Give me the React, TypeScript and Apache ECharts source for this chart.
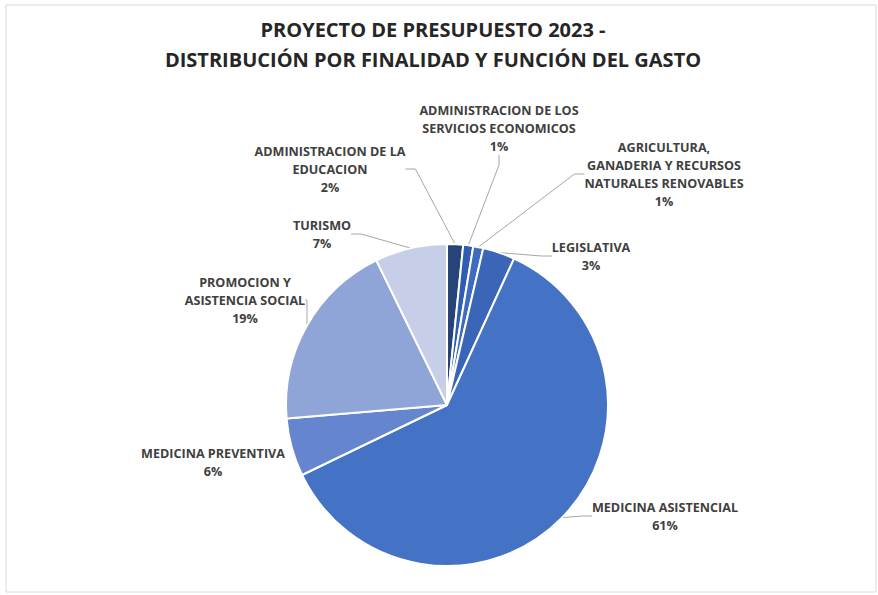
import React, { useEffect, useRef } from "react";
import * as echarts from "echarts";

const titleLines = [
  "PROYECTO DE PRESUPUESTO 2023 -",
  "DISTRIBUCIÓN POR FINALIDAD Y FUNCIÓN DEL GASTO",
];

const categories = [
  "ADMINISTRACION DE LA\nEDUCACION",
  "ADMINISTRACION DE LOS\nSERVICIOS ECONOMICOS",
  "AGRICULTURA,\nGANADERIA Y RECURSOS\nNATURALES RENOVABLES",
  "LEGISLATIVA",
  "MEDICINA ASISTENCIAL",
  "MEDICINA PREVENTIVA",
  "PROMOCION Y\nASISTENCIA SOCIAL",
  "TURISMO",
];

const values = [1.6, 1.0, 1.0, 3.2, 60.7, 5.8, 19.0, 7.2];

const sliceColors = [
  "#264478",
  "#2F5DAF",
  "#3E6BC0",
  "#3B66B8",
  "#4472C4",
  "#6685CF",
  "#8FA4D7",
  "#C6CEE8",
];

// label anchor centres (layout only)
const labelCenters: [number, number][] = [
  [330, 169],
  [499, 128],
  [664, 174],
  [591, 256],
  [665, 516],
  [213, 462],
  [245, 300],
  [322, 234],
];

export default function App() {
  const ref = useRef<HTMLDivElement>(null);
  useEffect(() => {
    document.body.style.margin = "0";
    if (!ref.current) return;
    const chart = echarts.init(ref.current, null, { renderer: "svg" });
    const total = values.reduce((a, b) => a + b, 0);
    const font = "'Liberation Sans Narrow', 'Arial Narrow', 'Open Sans', sans-serif";
    chart.setOption({
      animation: false,
      backgroundColor: "#ffffff",
      title: {
        text: titleLines.join("\n"),
        left: 428,
        top: 9,
        textAlign: "center",
        textStyle: {
          fontFamily: font,
          fontWeight: "bold",
          fontSize: 20,
          lineHeight: 30,
          color: "#262626",
        },
      },
      graphic: [
        {
          type: "rect",
          shape: { x: 6, y: 5, width: 870, height: 587 },
          style: { fill: "none", stroke: "#d9d9d9", lineWidth: 1 },
          silent: true,
        },
      ],
      series: [
        {
          type: "pie",
          center: [447, 405],
          radius: 161,
          startAngle: 90,
          clockwise: true,
          avoidLabelOverlap: false,
          itemStyle: { borderColor: "#ffffff", borderWidth: 2 },
          label: {
            show: true,
            position: "outside",
            formatter: (p: any) =>
              `${p.name}\n${Math.round((p.value / total) * 100)}%`,
            fontFamily: font,
            fontWeight: "bold",
            fontSize: 12.6,
            lineHeight: 18,
            color: "#404040",
            align: "center",
          },
          labelLine: {
            show: true,
            length: 10,
            length2: 10,
            lineStyle: { color: "#a6a6a6", width: 1 },
          },
          labelLayout: (params: any) => {
            const c = labelCenters[params.dataIndex];
            return {
              x: c[0],
              y: c[1],
              align: "center",
              verticalAlign: "middle",
            };
          },
          data: categories.map((name, i) => ({
            name,
            value: values[i],
            itemStyle: { color: sliceColors[i] },
            labelLine: i === 5 ? { show: false } : undefined,
          })),
        },
      ],
    });
    return () => chart.dispose();
  }, []);
  return <div ref={ref} style={{ width: 878, height: 595 }} />;
}
